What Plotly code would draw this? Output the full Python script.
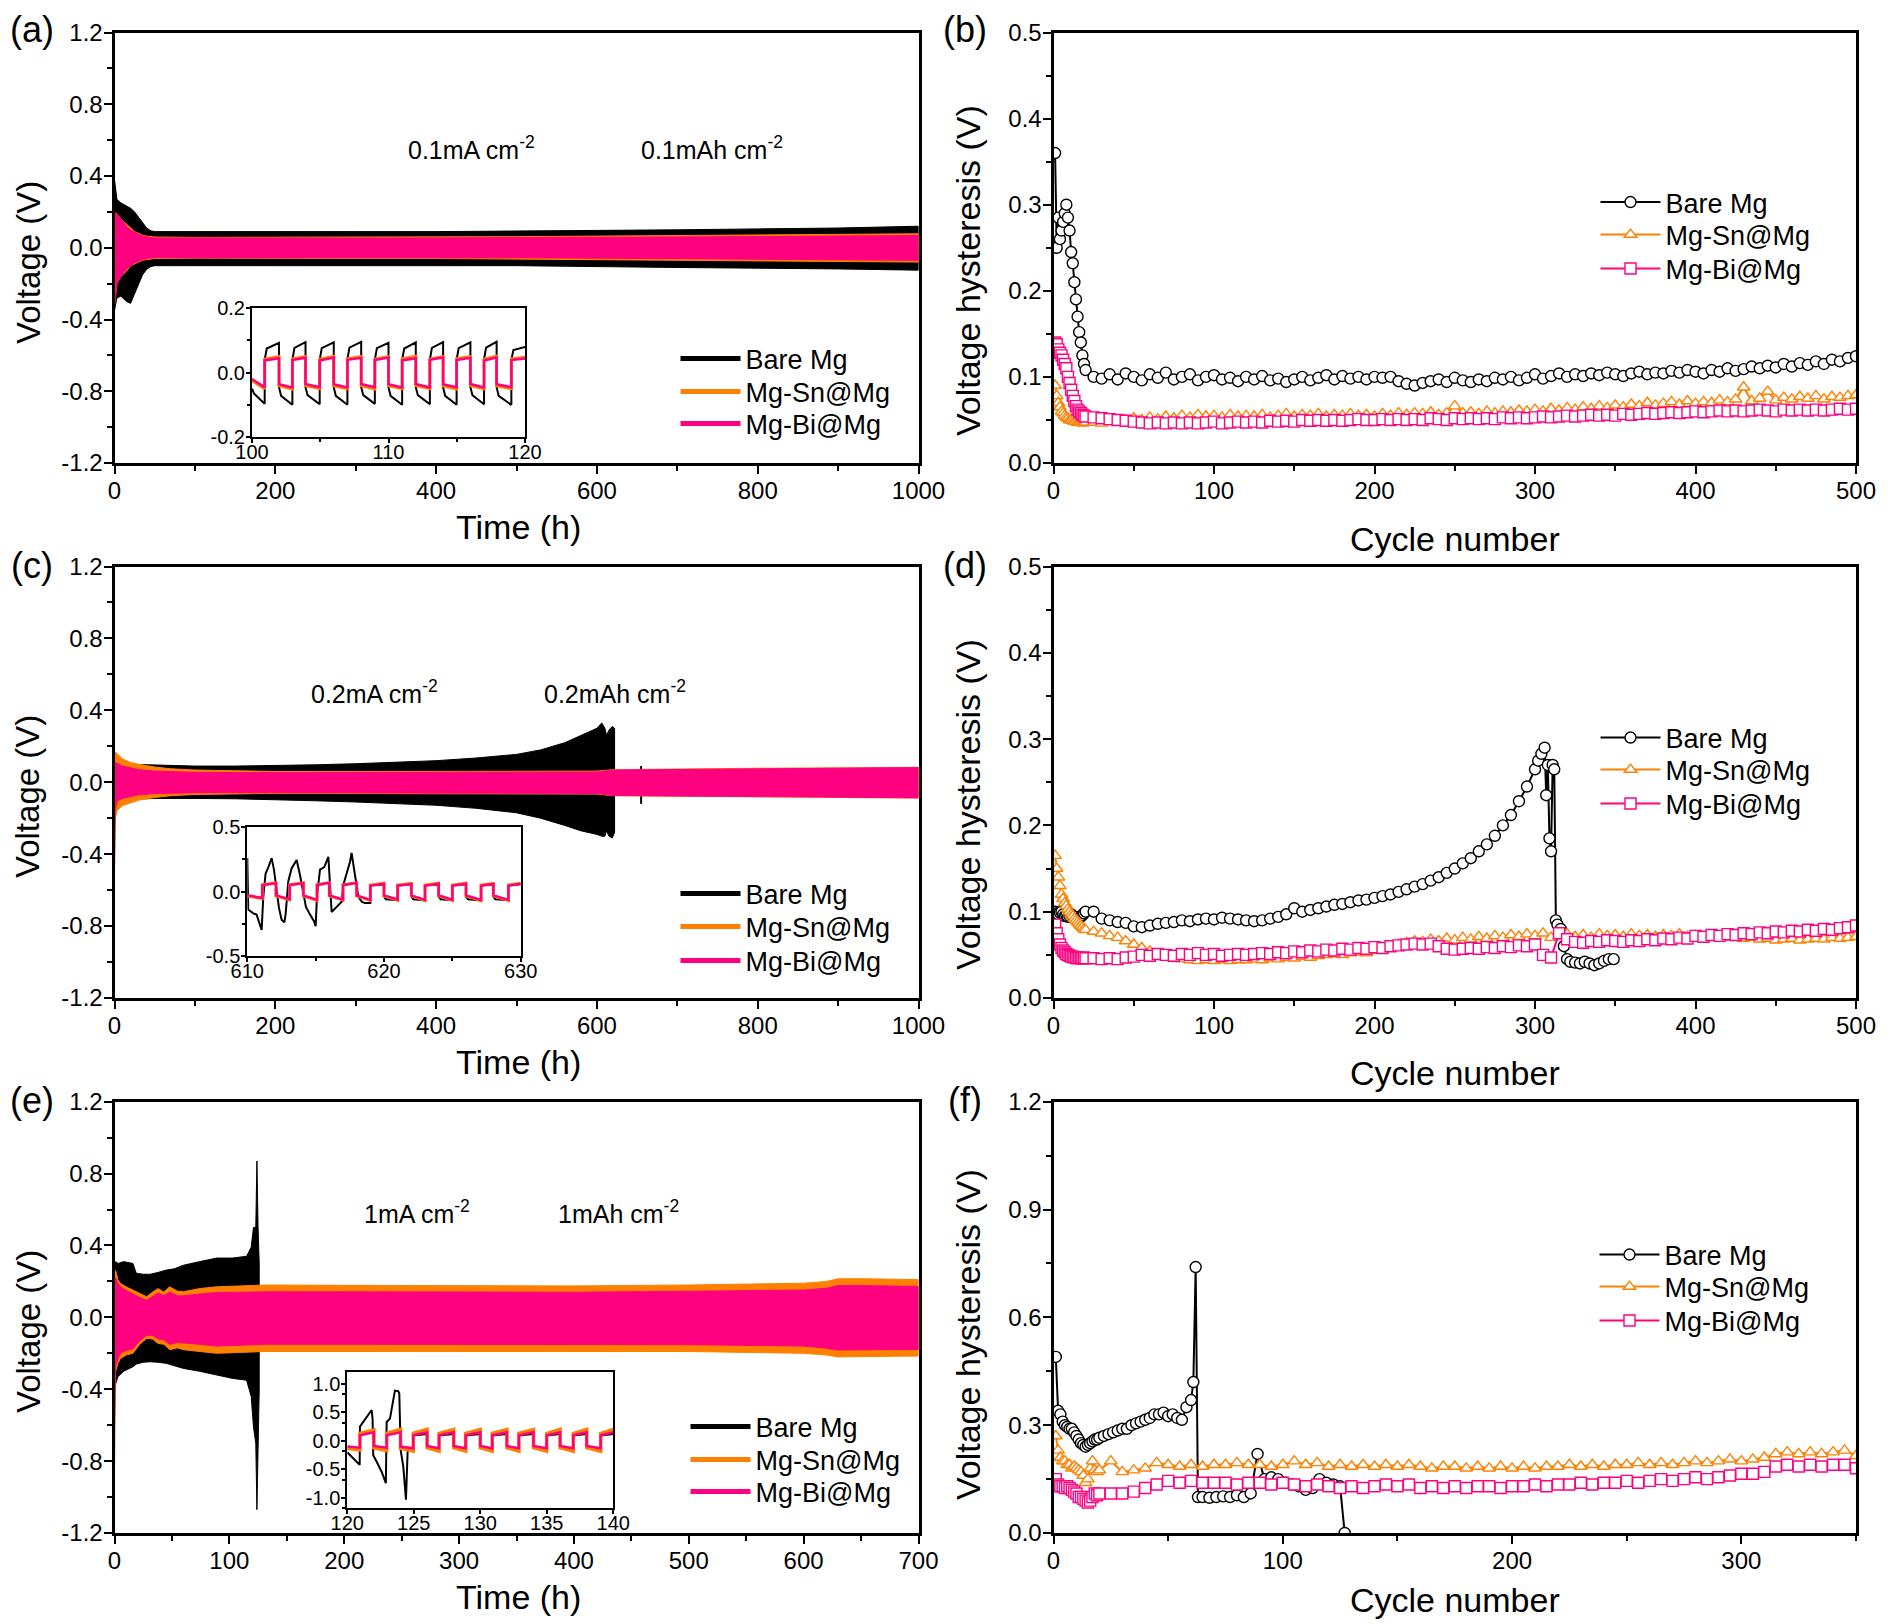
import plotly.graph_objects as go

W, H = 1890, 1624
PAGE_OFFSET = 8  # the html body margin shifts the figure by this many pixels
FONT = '"Liberation Sans", Arial, Helvetica, sans-serif'
BLACK = '#000000'
ORANGE = '#FF8000'
PINK = '#FF0080'
NAMES = ['Bare Mg', 'Mg-Sn@Mg', 'Mg-Bi@Mg']

# ---------------- (a) 0.1 mA cm-2 envelopes ----------------
a_t = [0, 3, 8, 15, 20, 25, 30, 35, 40, 45, 50, 100, 200, 300, 400, 500, 600, 700, 800, 900, 1000]
a_bare_up = [0.38, 0.27, 0.25, 0.23, 0.22, 0.2, 0.17, 0.14, 0.11, 0.095, 0.09, 0.09, 0.088, 0.09, 0.09, 0.092, 0.095, 0.1, 0.105, 0.11, 0.12]
a_bare_low = [-0.35, -0.28, -0.27, -0.3, -0.31, -0.26, -0.2, -0.15, -0.12, -0.105, -0.1, -0.1, -0.098, -0.1, -0.1, -0.1, -0.105, -0.11, -0.112, -0.118, -0.125]
a_sn_up = [0.2, 0.19, 0.16, 0.13, 0.11, 0.09, 0.08, 0.07, 0.065, 0.062, 0.06, 0.058, 0.058, 0.06, 0.06, 0.062, 0.065, 0.068, 0.07, 0.074, 0.078]
a_sn_low = [-0.32, -0.2, -0.16, -0.13, -0.1, -0.09, -0.08, -0.07, -0.065, -0.062, -0.06, -0.058, -0.058, -0.06, -0.06, -0.062, -0.065, -0.07, -0.072, -0.076, -0.08]
a_bi_up = [0.2, 0.19, 0.16, 0.12, 0.1, 0.085, 0.075, 0.066, 0.06, 0.057, 0.055, 0.054, 0.053, 0.054, 0.055, 0.056, 0.058, 0.06, 0.062, 0.065, 0.068]
a_bi_low = [-0.32, -0.2, -0.16, -0.12, -0.1, -0.085, -0.075, -0.066, -0.06, -0.057, -0.055, -0.054, -0.053, -0.054, -0.055, -0.056, -0.058, -0.06, -0.063, -0.066, -0.07]

# inset (a): half-cycle switching times and plateau values
ia_edges = [100, 100.93, 101.98, 102.96, 103.92, 104.96, 105.99, 106.99, 108.0, 109.0, 110.0,
            111.0, 112.0, 113.03, 114.0, 114.99, 116.0, 117.0, 117.92, 119.0, 120]
ia_bare = [(-0.05, -0.065, -0.097), (0.04, 0.075, 0.093), (-0.045, -0.072, -0.1), (0.04, 0.077, 0.095),
           (-0.045, -0.07, -0.098), (0.04, 0.076, 0.094), (-0.045, -0.072, -0.1), (0.042, 0.078, 0.096),
           (-0.045, -0.07, -0.097), (0.04, 0.076, 0.093), (-0.045, -0.072, -0.1), (0.04, 0.075, 0.094),
           (-0.045, -0.07, -0.098), (0.04, 0.077, 0.095), (-0.045, -0.072, -0.1), (0.04, 0.076, 0.094),
           (-0.045, -0.07, -0.098), (0.042, 0.078, 0.096), (-0.045, -0.072, -0.1), (0.04, 0.07, 0.08)]
ia_sn = [(-0.025, -0.05), (0.042, 0.05), (-0.04, -0.051), (0.043, 0.05), (-0.04, -0.05), (0.042, 0.051),
         (-0.041, -0.05), (0.043, 0.05), (-0.04, -0.051), (0.042, 0.05), (-0.041, -0.05), (0.043, 0.051),
         (-0.04, -0.05), (0.042, 0.05), (-0.041, -0.051), (0.043, 0.05), (-0.04, -0.05), (0.042, 0.051),
         (-0.041, -0.05), (0.043, 0.048)]
ia_bi = [(-0.02, -0.045), (0.038, 0.045), (-0.036, -0.046), (0.039, 0.046), (-0.035, -0.045), (0.038, 0.047),
         (-0.036, -0.046), (0.04, 0.046), (-0.035, -0.045), (0.039, 0.047), (-0.036, -0.046), (0.038, 0.045),
         (-0.035, -0.046), (0.04, 0.047), (-0.036, -0.045), (0.039, 0.046), (-0.035, -0.046), (0.038, 0.047),
         (-0.036, -0.045), (0.039, 0.044)]

# ---------------- (c) 0.2 mA cm-2 envelopes ----------------
c_bare_t = [0, 5, 20, 50, 100, 150, 200, 250, 300, 350, 400, 450, 500, 530, 560, 580, 600, 606, 610, 612, 615, 619, 622]
c_bare_up = [0.12, 0.11, 0.1, 0.095, 0.09, 0.09, 0.092, 0.097, 0.103, 0.11, 0.12, 0.135, 0.155, 0.18, 0.22, 0.26, 0.3, 0.33, 0.3, 0.26, 0.29, 0.31, 0.3]
c_bare_low = [-0.1, -0.1, -0.095, -0.09, -0.09, -0.092, -0.097, -0.103, -0.11, -0.118, -0.128, -0.145, -0.17, -0.2, -0.24, -0.27, -0.29, -0.3, -0.3, -0.27, -0.3, -0.31, -0.28]
c_glitch_t = [655, 655]
c_glitch_v = [0.09, -0.12]
c_t = [0, 1, 3, 5, 10, 20, 30, 50, 70, 100, 200, 300, 400, 500, 600, 620, 700, 800, 900, 1000]
c_sn_up = [0.1, 0.17, 0.16, 0.15, 0.13, 0.11, 0.1, 0.085, 0.075, 0.068, 0.06, 0.06, 0.06, 0.06, 0.062, 0.07, 0.075, 0.078, 0.08, 0.083]
c_sn_low = [-0.45, -0.2, -0.16, -0.15, -0.13, -0.115, -0.1, -0.085, -0.075, -0.068, -0.062, -0.062, -0.063, -0.064, -0.066, -0.075, -0.08, -0.082, -0.085, -0.088]
c_bi_up = [0.1, 0.11, 0.105, 0.1, 0.09, 0.08, 0.07, 0.062, 0.058, 0.055, 0.053, 0.053, 0.054, 0.055, 0.057, 0.068, 0.072, 0.075, 0.078, 0.082]
c_bi_low = [-0.52, -0.15, -0.11, -0.1, -0.09, -0.08, -0.07, -0.063, -0.06, -0.058, -0.058, -0.058, -0.059, -0.06, -0.062, -0.074, -0.078, -0.08, -0.083, -0.087]

# inset (c)
ic_edges = [610, 611.1, 612.1, 613.1, 614.1, 615.1, 616.0, 617.0, 618.0, 619.0, 620.0,
            621.0, 622.0, 623.0, 624.0, 625.0, 626.0, 627.1, 628.0, 629.1, 630]
ic_bare_t = [610.0, 610.07, 610.44, 610.68, 610.85, 611.05, 611.17, 611.34, 611.54, 611.78, 611.95,
             612.15, 612.32, 612.51, 612.71, 612.8, 613.0, 613.24, 613.49, 613.61, 613.85, 614.1,
             614.29, 614.59, 614.9, 615.0, 615.1, 615.32, 615.63, 615.93, 616.05, 616.17, 616.54,
             616.9, 617.02, 617.27, 617.51, 617.63, 617.88, 618.12, 618.37, 618.6, 619.0]
ic_bare_v = [0.26, -0.14, -0.17, -0.18, -0.235, -0.3, -0.04, 0.14, 0.19, 0.26, 0.17,
             -0.015, -0.13, -0.22, -0.24, -0.18, 0.08, 0.18, 0.23, 0.245, 0.13, -0.03,
             -0.12, -0.18, -0.235, -0.27, -0.03, 0.17, 0.19, 0.27, 0.08, -0.16, -0.12,
             -0.08, 0.05, 0.14, 0.23, 0.3, 0.14, -0.04, -0.08, -0.09, -0.09]
ic_bare_late = [(0.04, 0.05, 0.055), (-0.04, -0.06, -0.068), (0.042, 0.05, 0.056), (-0.04, -0.06, -0.07),
                (0.04, 0.05, 0.055), (-0.04, -0.06, -0.068), (0.042, 0.05, 0.056), (-0.04, -0.06, -0.07),
                (0.04, 0.05, 0.055), (-0.04, -0.06, -0.068), (0.042, 0.05, 0.056)]
ic_sn = [(-0.035, -0.055), (0.052, 0.068), (-0.035, -0.065), (0.052, 0.068), (-0.035, -0.07), (0.052, 0.07),
         (-0.035, -0.067), (0.052, 0.069), (-0.035, -0.07), (0.05, 0.065), (-0.035, -0.068), (0.05, 0.062),
         (-0.035, -0.07), (0.05, 0.065), (-0.035, -0.069), (0.05, 0.064), (-0.035, -0.071), (0.05, 0.062),
         (-0.035, -0.07), (0.05, 0.064)]
ic_bi = [(-0.03, -0.05), (0.05, 0.065), (-0.03, -0.06), (0.05, 0.065), (-0.03, -0.065), (0.05, 0.068),
         (-0.03, -0.062), (0.05, 0.066), (-0.03, -0.065), (0.045, 0.06), (-0.03, -0.062), (0.045, 0.058),
         (-0.03, -0.065), (0.045, 0.06), (-0.03, -0.064), (0.045, 0.06), (-0.03, -0.066), (0.045, 0.058),
         (-0.03, -0.065), (0.045, 0.06)]

# ---------------- (e) 1 mA cm-2 envelopes ----------------
e_bare_t = [0, 1, 3, 8, 16, 19, 25, 31, 38, 45, 52, 60, 74, 89, 103, 115, 119, 121, 123, 124, 125, 126]
e_bare_up = [0.2, 0.31, 0.3, 0.31, 0.3, 0.245, 0.24, 0.24, 0.25, 0.263, 0.27, 0.29, 0.31, 0.33, 0.33, 0.34, 0.39, 0.5, 0.5, 0.87, 0.5, 0.3]
e_bare_low = [-0.5, -0.37, -0.33, -0.3, -0.275, -0.26, -0.25, -0.247, -0.25, -0.256, -0.27, -0.284, -0.3, -0.32, -0.34, -0.35, -0.44, -0.61, -0.7, -1.07, -0.8, -0.4]
e_t = [0, 1, 3, 5, 10, 16, 22, 28, 33, 38, 43, 48, 55, 60, 74, 89, 110, 132, 200, 300, 400, 500, 600, 620, 630, 650, 700]
e_sn_up = [0.1, 0.26, 0.21, 0.19, 0.17, 0.152, 0.13, 0.115, 0.14, 0.16, 0.14, 0.17, 0.145, 0.143, 0.16, 0.17, 0.175, 0.18, 0.178, 0.175, 0.175, 0.18, 0.19, 0.2, 0.215, 0.215, 0.21]
e_sn_low = [-0.87, -0.3, -0.256, -0.23, -0.21, -0.2, -0.15, -0.117, -0.12, -0.145, -0.15, -0.18, -0.17, -0.18, -0.19, -0.2, -0.195, -0.19, -0.19, -0.19, -0.19, -0.19, -0.2, -0.21, -0.22, -0.22, -0.215]
e_bi_up = [0.1, 0.22, 0.19, 0.17, 0.15, 0.13, 0.11, 0.095, 0.115, 0.135, 0.12, 0.14, 0.12, 0.12, 0.13, 0.138, 0.14, 0.142, 0.142, 0.14, 0.14, 0.145, 0.152, 0.162, 0.177, 0.177, 0.172]
e_bi_low = [-0.6, -0.27, -0.23, -0.2, -0.185, -0.175, -0.13, -0.1, -0.1, -0.12, -0.125, -0.15, -0.14, -0.142, -0.15, -0.16, -0.155, -0.15, -0.15, -0.15, -0.15, -0.152, -0.16, -0.172, -0.182, -0.182, -0.178]

# inset (e)
ie_edges = [120, 120.95, 122, 122.96, 124, 124.96, 126, 126.9, 128, 128.9, 130,
            130.9, 132, 132.9, 134, 134.99, 136, 136.99, 138, 139.05, 140]
ie_bare_t = [120.0, 120.33, 120.63, 120.93, 120.95, 121.2, 121.58, 121.83, 121.9, 121.95, 122.2, 122.58,
             122.9, 122.96, 123.21, 123.58, 123.83, 123.91, 124.01, 124.21, 124.41, 124.49, 124.54, 124.94]
ie_bare_v = [-0.2, -0.275, -0.36, -0.42, 0.25, 0.33, 0.45, 0.54, 0.39, -0.25, -0.36, -0.54,
             -0.74, 0.33, 0.39, 0.88, 0.87, 0.83, -0.16, -0.45, -1.03, -0.57, -0.16, -0.13]
ie_bare_late = [(0.08, 0.1, 0.12), (-0.1, -0.12, -0.14), (0.08, 0.1, 0.12), (-0.1, -0.12, -0.14),
                (0.08, 0.1, 0.12), (-0.1, -0.12, -0.14), (0.08, 0.1, 0.12), (-0.1, -0.12, -0.14),
                (0.08, 0.1, 0.12), (-0.1, -0.12, -0.14), (0.08, 0.1, 0.12), (-0.1, -0.12, -0.14),
                (0.08, 0.1, 0.12), (-0.1, -0.12, -0.14), (0.08, 0.1, 0.12)]
ie_sn = [(-0.13, -0.16), (0.13, 0.19), (-0.12, -0.17), (0.13, 0.2), (-0.13, -0.18), (0.13, 0.2),
         (-0.12, -0.18), (0.13, 0.2), (-0.12, -0.18), (0.13, 0.2), (-0.12, -0.18), (0.13, 0.2),
         (-0.12, -0.18), (0.13, 0.2), (-0.12, -0.18), (0.13, 0.2), (-0.12, -0.18), (0.13, 0.2),
         (-0.12, -0.18), (0.13, 0.2)]
ie_bi = [(-0.1, -0.12), (0.1, 0.15), (-0.09, -0.12), (0.1, 0.15), (-0.1, -0.13), (0.1, 0.15),
         (-0.09, -0.13), (0.1, 0.15), (-0.09, -0.13), (0.1, 0.15), (-0.09, -0.13), (0.1, 0.15),
         (-0.09, -0.13), (0.1, 0.15), (-0.09, -0.13), (0.1, 0.15), (-0.09, -0.13), (0.1, 0.15),
         (-0.09, -0.13), (0.1, 0.15)]

# ---------------- (b) hysteresis, 0.1 mA cm-2 ----------------
cyc_early = list(range(1, 21))
cyc_500 = list(range(25, 501, 5))
b_bare_early = [0.36, 0.25, 0.285, 0.26, 0.27, 0.28, 0.29, 0.30, 0.285, 0.27, 0.245, 0.232, 0.21, 0.19, 0.17, 0.152, 0.14, 0.125, 0.115, 0.108]
b_bare = [0.1, 0.098, 0.103, 0.097, 0.104, 0.1, 0.096, 0.103, 0.099, 0.105,
          0.097, 0.1, 0.103, 0.096, 0.1, 0.102, 0.097, 0.099, 0.095, 0.1,
          0.097, 0.101, 0.096, 0.098, 0.094, 0.097, 0.1, 0.096, 0.099, 0.102,
          0.097, 0.101, 0.098, 0.1, 0.097, 0.1, 0.099, 0.1, 0.095, 0.092,
          0.09, 0.093, 0.095, 0.097, 0.094, 0.099, 0.096, 0.094, 0.097, 0.095,
          0.099, 0.097, 0.1, 0.096, 0.099, 0.103, 0.098, 0.101, 0.104, 0.1,
          0.103, 0.101, 0.104, 0.102, 0.105, 0.103, 0.101, 0.104, 0.106, 0.103,
          0.105, 0.104, 0.107, 0.105, 0.108, 0.106, 0.104, 0.108, 0.106, 0.11,
          0.107, 0.109, 0.112, 0.11, 0.113, 0.111, 0.115, 0.112, 0.116, 0.114,
          0.118, 0.115, 0.12, 0.118, 0.122, 0.124]
b_sn_early = [0.09, 0.078, 0.07, 0.065, 0.06, 0.058, 0.055, 0.053, 0.052, 0.05, 0.05, 0.049, 0.048, 0.048, 0.047, 0.047, 0.047, 0.046, 0.047, 0.047]
b_sn = [0.047, 0.046, 0.048, 0.047, 0.05, 0.052, 0.05, 0.053, 0.051, 0.054,
        0.052, 0.055, 0.053, 0.056, 0.054, 0.055, 0.053, 0.056, 0.054, 0.055,
        0.054, 0.056, 0.053, 0.055, 0.057, 0.054, 0.056, 0.055, 0.057, 0.054,
        0.056, 0.055, 0.057, 0.055, 0.056, 0.054, 0.057, 0.055, 0.058, 0.056,
        0.058, 0.057, 0.059, 0.056, 0.058, 0.066, 0.058, 0.059, 0.057, 0.06,
        0.058, 0.06, 0.059, 0.061, 0.06, 0.062, 0.06, 0.063, 0.061, 0.064,
        0.062, 0.065, 0.063, 0.066, 0.064, 0.067, 0.065, 0.068, 0.066, 0.07,
        0.067, 0.069, 0.071, 0.068, 0.072, 0.069, 0.071, 0.07, 0.073, 0.071,
        0.074, 0.088, 0.072, 0.075, 0.083, 0.073, 0.076, 0.074, 0.077, 0.075,
        0.078, 0.074, 0.077, 0.076, 0.078, 0.079]
b_bi_early = [0.14, 0.138, 0.132, 0.128, 0.125, 0.12, 0.115, 0.11, 0.1, 0.093, 0.085, 0.078, 0.072, 0.066, 0.062, 0.06, 0.058, 0.056, 0.055, 0.054]
b_bi = [0.053, 0.052, 0.051, 0.05, 0.049, 0.048, 0.047, 0.046, 0.047, 0.046,
        0.047, 0.046, 0.047, 0.046, 0.047, 0.048, 0.046, 0.047, 0.048, 0.047,
        0.048, 0.047, 0.049, 0.048, 0.049, 0.048, 0.05, 0.049, 0.05, 0.049,
        0.05, 0.049, 0.05, 0.051, 0.05, 0.05, 0.051, 0.05, 0.051, 0.05,
        0.051, 0.05, 0.052, 0.051, 0.05, 0.052, 0.051, 0.052, 0.051, 0.052,
        0.051, 0.053, 0.052, 0.053, 0.052, 0.053, 0.054, 0.053, 0.054, 0.055,
        0.054, 0.055, 0.056, 0.055, 0.056, 0.055, 0.057, 0.056, 0.057, 0.058,
        0.057, 0.058, 0.059, 0.058, 0.059, 0.06, 0.059, 0.06, 0.061, 0.06,
        0.061, 0.06, 0.061, 0.062, 0.061, 0.06, 0.062, 0.061, 0.062, 0.061,
        0.062, 0.061, 0.062, 0.063, 0.062, 0.063]

# ---------------- (d) hysteresis, 0.2 mA cm-2 ----------------
d_bare_cyc = list(range(1, 21)) + list(range(25, 301, 5)) + \
    [302, 304, 306, 307, 308, 309, 310, 311, 312, 313, 314, 316, 318, 320] + \
    [322, 325, 328, 331, 334, 337, 340, 343, 346, 349]
d_bare = [0.1, 0.098, 0.097, 0.099, 0.1, 0.097, 0.095, 0.096, 0.094, 0.095,
          0.097, 0.095, 0.093, 0.094, 0.092, 0.093, 0.094, 0.096, 0.098, 0.1,
          0.1, 0.092, 0.09, 0.088, 0.087, 0.083, 0.082, 0.084, 0.086, 0.087,
          0.088, 0.09, 0.089, 0.091, 0.092, 0.091, 0.093, 0.092, 0.091, 0.09,
          0.089, 0.09, 0.092, 0.094, 0.097, 0.104, 0.1, 0.102, 0.104, 0.106,
          0.108, 0.109, 0.111, 0.113, 0.114, 0.116, 0.118, 0.12, 0.123, 0.126,
          0.129, 0.132, 0.136, 0.14, 0.145, 0.15, 0.156, 0.162, 0.17, 0.178,
          0.188, 0.2, 0.212, 0.228, 0.245, 0.265,
          0.275, 0.283, 0.29, 0.235, 0.27, 0.185, 0.17, 0.27, 0.265, 0.09, 0.085, 0.08, 0.06, 0.045,
          0.042, 0.041, 0.04, 0.042, 0.04, 0.038, 0.04, 0.043, 0.045, 0.045]
d_sn_early = [0.165, 0.15, 0.14, 0.13, 0.12, 0.115, 0.11, 0.107, 0.103, 0.1, 0.097, 0.095, 0.092, 0.09, 0.088, 0.086, 0.084, 0.082, 0.08, 0.079]
d_sn = [0.077, 0.075, 0.072, 0.07, 0.066, 0.062, 0.058, 0.054, 0.05, 0.048,
        0.046, 0.045, 0.044, 0.043, 0.044, 0.043, 0.044, 0.043, 0.044, 0.044,
        0.045, 0.044, 0.046, 0.045, 0.047, 0.046, 0.048, 0.047, 0.049, 0.05,
        0.051, 0.05, 0.052, 0.053, 0.052, 0.055, 0.057, 0.06, 0.062, 0.064,
        0.066, 0.065, 0.068, 0.066, 0.069, 0.067, 0.07, 0.068, 0.071, 0.069,
        0.072, 0.07, 0.073, 0.071, 0.074, 0.072, 0.075, 0.07, 0.072, 0.074,
        0.071, 0.073, 0.07, 0.074, 0.072, 0.073, 0.071, 0.074, 0.072, 0.073,
        0.071, 0.073, 0.072, 0.074, 0.071, 0.072, 0.07, 0.072, 0.071, 0.07,
        0.071, 0.069, 0.07, 0.068, 0.069, 0.067, 0.068, 0.069, 0.067, 0.068,
        0.069, 0.068, 0.07, 0.069, 0.07, 0.071]
d_bi_early = [0.085, 0.075, 0.068, 0.062, 0.058, 0.055, 0.053, 0.051, 0.05, 0.049, 0.048, 0.048, 0.047, 0.047, 0.046, 0.047, 0.046, 0.046, 0.047, 0.046]
d_bi = [0.046, 0.045, 0.046, 0.045, 0.047, 0.048, 0.05, 0.049, 0.051, 0.05,
        0.049, 0.051, 0.05, 0.052, 0.05, 0.051, 0.049, 0.05, 0.051, 0.05,
        0.051, 0.052, 0.051, 0.053, 0.052, 0.054, 0.053, 0.055, 0.054, 0.056,
        0.055, 0.057, 0.056, 0.058, 0.057, 0.059, 0.058, 0.06, 0.061, 0.062,
        0.063, 0.062, 0.063, 0.06, 0.057, 0.056, 0.057, 0.058, 0.057, 0.059,
        0.058, 0.06, 0.059, 0.061, 0.06, 0.062, 0.05, 0.047, 0.075, 0.068,
        0.065, 0.064, 0.066, 0.065, 0.067, 0.066, 0.065, 0.067, 0.066, 0.068,
        0.067, 0.069, 0.068, 0.07, 0.069, 0.072, 0.071, 0.073, 0.072, 0.074,
        0.073, 0.075, 0.074, 0.076, 0.075, 0.077, 0.076, 0.078, 0.077, 0.079,
        0.078, 0.08, 0.079, 0.081, 0.082, 0.084]

# ---------------- (f) hysteresis, 1 mA cm-2 ----------------
f_bare_cyc = list(range(1, 21)) + list(range(22, 61, 2)) + [61, 62, 63] + list(range(65, 126, 3)) + [127]
f_bare = [0.49, 0.34, 0.33, 0.31, 0.3, 0.295, 0.29, 0.29, 0.28, 0.27,
          0.26, 0.25, 0.245, 0.24, 0.245, 0.25, 0.255, 0.26, 0.26, 0.265,
          0.27, 0.275, 0.28, 0.285, 0.29, 0.29, 0.3, 0.305, 0.31, 0.315,
          0.32, 0.33, 0.33, 0.335, 0.325, 0.33, 0.32, 0.315, 0.35, 0.37,
          0.42, 0.74, 0.1,
          0.1, 0.098, 0.1, 0.102, 0.1, 0.105, 0.1, 0.11, 0.22, 0.15, 0.155,
          0.15, 0.14, 0.135, 0.13, 0.12, 0.125, 0.15, 0.14, 0.135, 0.13,
          0.0]
cyc_350 = list(range(25, 351, 5))
f_sn_early = [0.27, 0.23, 0.21, 0.2, 0.2, 0.19, 0.19, 0.18, 0.185, 0.18, 0.175, 0.17, 0.16, 0.14, 0.15, 0.18, 0.2, 0.175, 0.17, 0.175]
f_sn = [0.2, 0.17, 0.175, 0.18, 0.195, 0.19, 0.185, 0.19, 0.185, 0.19,
        0.19, 0.195, 0.19, 0.19, 0.185, 0.19, 0.2, 0.19, 0.195, 0.185,
        0.19, 0.185, 0.19, 0.185, 0.19, 0.185, 0.19, 0.185, 0.18, 0.185,
        0.185, 0.18, 0.185, 0.18, 0.185, 0.18, 0.185, 0.18, 0.185, 0.185,
        0.19, 0.185, 0.19, 0.185, 0.19, 0.19, 0.195, 0.19, 0.195, 0.19,
        0.195, 0.2, 0.195, 0.2, 0.205, 0.2, 0.205, 0.21, 0.22, 0.225,
        0.22, 0.225, 0.22, 0.225, 0.23, 0.215]
f_bi_early = [0.15, 0.135, 0.13, 0.13, 0.125, 0.13, 0.125, 0.12, 0.115, 0.11, 0.1, 0.1, 0.095, 0.09, 0.085, 0.09, 0.1, 0.11, 0.105, 0.11]
f_bi = [0.11, 0.11, 0.115, 0.125, 0.135, 0.145, 0.14, 0.145, 0.14, 0.14,
        0.14, 0.135, 0.14, 0.14, 0.135, 0.14, 0.135, 0.13, 0.135, 0.13,
        0.125, 0.13, 0.125, 0.13, 0.135, 0.13, 0.135, 0.125, 0.13, 0.125,
        0.13, 0.125, 0.13, 0.13, 0.125, 0.13, 0.13, 0.135, 0.13, 0.135,
        0.135, 0.14, 0.135, 0.14, 0.14, 0.145, 0.14, 0.145, 0.15, 0.145,
        0.15, 0.155, 0.15, 0.155, 0.16, 0.165, 0.165, 0.17, 0.185, 0.19,
        0.185, 0.19, 0.185, 0.19, 0.19, 0.18]


def px(x):
    return (x - PAGE_OFFSET) / W


def py(y):
    return 1 - (y - PAGE_OFFSET) / H


def halves_path(edges, halves):
    # step trace built from half-cycle switching times and plateau readings
    xs, ys = [], []
    for i, h in enumerate(halves):
        t0, t1 = edges[i], edges[i + 1]
        if len(h) == 3:
            xs += [t0, t0 + 0.15, t1]
        else:
            xs += [t0, t1]
        ys += list(h)
    return xs, ys


fig = go.Figure()


def band(t, up, low, color, n):
    fig.add_trace(go.Scatter(
        x=t + t[::-1], y=up + low[::-1], mode='lines', fill='toself',
        fillcolor=color, line=dict(color=color, width=1),
        xaxis='x' + n, yaxis='y' + n, showlegend=False, hoverinfo='skip'))


def line(x, y, color, width, n):
    fig.add_trace(go.Scatter(
        x=x, y=y, mode='lines', line=dict(color=color, width=width),
        xaxis='x' + n, yaxis='y' + n, showlegend=False, hoverinfo='skip'))


def legend_lines(n, legs):
    for name, color, leg in zip(NAMES, [BLACK, ORANGE, PINK], legs):
        fig.add_trace(go.Scatter(
            x=[None], y=[None], mode='lines', name=name,
            line=dict(color=color, width=5), xaxis='x' + n, yaxis='y' + n,
            legend=leg))


def hyst(n, legs, series):
    symbols = ['circle', 'triangle-up', 'square']
    colors = [BLACK, ORANGE, PINK]
    for (x, y), name, sym, color, leg in zip(series, NAMES, symbols, colors, legs):
        fig.add_trace(go.Scatter(
            x=x, y=y, mode='lines+markers', name=name,
            line=dict(color=color, width=2),
            marker=dict(symbol=sym, size=11, color='white', line=dict(color=color, width=1.4)),
            xaxis='x' + n, yaxis='y' + n, legend=leg))


def legs_for(panel):
    ids = [panel * 3 + k + 1 for k in range(3)]
    return ['legend' if i == 1 else 'legend%d' % i for i in ids]


# (a)
band(a_t, a_bare_up, a_bare_low, BLACK, '')
band(a_t, a_sn_up, a_sn_low, ORANGE, '')
band(a_t, a_bi_up, a_bi_low, PINK, '')
legend_lines('', legs_for(0))
x, y = halves_path(ia_edges, ia_bare)
line(x, y, BLACK, 2, '7')
x, y = halves_path(ia_edges, ia_sn)
line(x, y, ORANGE, 3, '7')
x, y = halves_path(ia_edges, ia_bi)
line(x, y, PINK, 2.5, '7')

# (c)
band(c_bare_t, c_bare_up, c_bare_low, BLACK, '3')
line(c_glitch_t, c_glitch_v, BLACK, 2, '3')
band(c_t, c_sn_up, c_sn_low, ORANGE, '3')
band(c_t, c_bi_up, c_bi_low, PINK, '3')
legend_lines('3', legs_for(2))
x, y = halves_path(ic_edges[9:], ic_bare_late)
line(ic_bare_t + x, ic_bare_v + y, BLACK, 2, '8')
x, y = halves_path(ic_edges, ic_sn)
line(x, y, ORANGE, 3, '8')
x, y = halves_path(ic_edges, ic_bi)
line(x, y, PINK, 2.5, '8')

# (e)
band(e_bare_t, e_bare_up, e_bare_low, BLACK, '5')
band(e_t, e_sn_up, e_sn_low, ORANGE, '5')
band(e_t, e_bi_up, e_bi_low, PINK, '5')
legend_lines('5', legs_for(4))
x, y = halves_path(ie_edges[5:], ie_bare_late)
line(ie_bare_t + x, ie_bare_v + y, BLACK, 2, '9')
x, y = halves_path(ie_edges, ie_sn)
line(x, y, ORANGE, 3.5, '9')
x, y = halves_path(ie_edges, ie_bi)
line(x, y, PINK, 2.5, '9')

# (b), (d), (f)
hyst('2', legs_for(1), [(cyc_early + cyc_500, b_bare_early + b_bare),
                        (cyc_early + cyc_500, b_sn_early + b_sn),
                        (cyc_early + cyc_500, b_bi_early + b_bi)])
hyst('4', legs_for(3), [(d_bare_cyc, d_bare),
                        (cyc_early + cyc_500, d_sn_early + d_sn),
                        (cyc_early + cyc_500, d_bi_early + d_bi)])
hyst('6', legs_for(5), [(f_bare_cyc, f_bare),
                        (cyc_early + cyc_350, f_sn_early + f_sn),
                        (cyc_early + cyc_350, f_bi_early + f_bi)])


def axis(domain, rng, vals, labels, minor, anchor, size=24, lw=3, tlen=8, mlen=5, tw=2, standoff=-4):
    return dict(domain=domain, range=rng, anchor=anchor, automargin=False,
                tickmode='array', tickvals=vals, ticktext=labels, ticklabelstandoff=standoff,
                showline=True, linecolor='black', linewidth=lw, mirror=True,
                ticks='outside', ticklen=tlen, tickwidth=tw, tickcolor='black',
                minor=dict(tickmode='linear', tick0=rng[0], dtick=minor, ticks='outside',
                           ticklen=mlen, tickwidth=tw, tickcolor='black', showgrid=False),
                showgrid=False, zeroline=False, fixedrange=True,
                tickfont=dict(family=FONT, size=size, color='black'))


def f1(vals):
    return ['%.1f' % v for v in vals]


def fi(vals):
    return [str(v) for v in vals]


col_l = [px(114.5), px(918.5)]
col_r = [px(1053.5), px(1856)]
row1 = [py(463), py(32.5)]
row2 = [py(998), py(566.5)]
row3 = [py(1533), py(1101.7)]

v_ticks = [-1.2, -0.8, -0.4, 0.0, 0.4, 0.8, 1.2]
h_ticks = [0.0, 0.1, 0.2, 0.3, 0.4, 0.5]
t1000 = [0, 200, 400, 600, 800, 1000]
c500 = [0, 100, 200, 300, 400, 500]
t700 = [0, 100, 200, 300, 400, 500, 600, 700]
c350 = [0, 100, 200, 300]
f_ticks = [0.0, 0.3, 0.6, 0.9, 1.2]
ins_x = dict(size=20, lw=2, tlen=4, mlen=3, tw=1.5, standoff=-8)
ins_y = dict(size=20, lw=2, tlen=4, mlen=3, tw=1.5, standoff=-3)

layout_axes = dict(
    xaxis=axis(col_l, [0, 1000], t1000, fi(t1000), 100, 'y'),
    yaxis=axis(row1, [-1.2, 1.2], v_ticks, f1(v_ticks), 0.2, 'x'),
    xaxis2=axis(col_r, [0, 500], c500, fi(c500), 50, 'y2'),
    yaxis2=axis(row1, [0, 0.5], h_ticks, f1(h_ticks), 0.05, 'x2'),
    xaxis3=axis(col_l, [0, 1000], t1000, fi(t1000), 100, 'y3'),
    yaxis3=axis(row2, [-1.2, 1.2], v_ticks, f1(v_ticks), 0.2, 'x3'),
    xaxis4=axis(col_r, [0, 500], c500, fi(c500), 50, 'y4'),
    yaxis4=axis(row2, [0, 0.5], h_ticks, f1(h_ticks), 0.05, 'x4'),
    xaxis5=axis(col_l, [0, 700], t700, fi(t700), 50, 'y5'),
    yaxis5=axis(row3, [-1.2, 1.2], v_ticks, f1(v_ticks), 0.2, 'x5'),
    xaxis6=axis(col_r, [0, 350], c350, fi(c350), 50, 'y6'),
    yaxis6=axis(row3, [0, 1.2], f_ticks, f1(f_ticks), 0.15, 'x6'),
    xaxis7=axis([px(252), px(525)], [100, 120], [100, 110, 120], fi([100, 110, 120]), 5, 'y7', **ins_x),
    yaxis7=axis([py(437), py(308.3)], [-0.2, 0.2], [-0.2, 0.0, 0.2], f1([-0.2, 0.0, 0.2]), 0.1, 'x7', **ins_y),
    xaxis8=axis([px(247.3), px(520.7)], [610, 630], [610, 620, 630], fi([610, 620, 630]), 5, 'y8', **ins_x),
    yaxis8=axis([py(955.7), py(827.3)], [-0.5, 0.5], [-0.5, 0.0, 0.5], f1([-0.5, 0.0, 0.5]), 0.25, 'x8', **ins_y),
    xaxis9=axis([px(347.3), px(613.3)], [120, 140], [120, 125, 130, 135, 140],
                fi([120, 125, 130, 135, 140]), 5, 'y9', **ins_x),
    yaxis9=axis([py(1508.3), py(1372.3)], [-1.18, 1.2], [-1.0, -0.5, 0.0, 0.5, 1.0],
                f1([-1.0, -0.5, 0.0, 0.5, 1.0]), 0.5, 'x9', **ins_y),
)

# one legend box per entry so the row spacing can follow the reference
legend_spots = [
    (675.5, [359, 392, 424]),      # (a)
    (1595.5, [202.5, 235, 269]),   # (b)
    (675.5, [894, 927, 961]),      # (c)
    (1595.5, [738, 770, 804]),     # (d)
    (685.5, [1427, 1460, 1492]),   # (e)
    (1594.5, [1255, 1287, 1321]),  # (f)
]
legends = {}
for p, (lx, ys) in enumerate(legend_spots):
    for name, ly in zip(legs_for(p), ys):
        legends[name] = dict(x=px(lx), y=py(ly), xanchor='left', yanchor='middle',
                             bgcolor='rgba(0,0,0,0)', borderwidth=0,
                             font=dict(family=FONT, size=27, color='black'), itemwidth=60,
                             itemclick=False, itemdoubleclick=False)

anns = []


def ann(text, x, y, size, angle=0):
    anns.append(dict(text=text, x=px(x), y=py(y), xref='paper', yref='paper', showarrow=False,
                     xanchor='center', yanchor='middle', textangle=angle,
                     font=dict(family=FONT, size=size, color='black')))


for lab, x, y in [('(a)', 32, 30), ('(b)', 965, 30), ('(c)', 32, 565), ('(d)', 965, 565),
                  ('(e)', 32, 1100), ('(f)', 965, 1100)]:
    ann(lab, x, y, 36)
for y in [527, 1062, 1597]:
    ann('Time (h)', 518, y, 34)
for y in [539, 1073, 1600]:
    ann('Cycle number', 1455, y, 34)
for y in [263, 797, 1332]:
    ann('Voltage (V)', 28, y, 33, -90)
for y in [271, 805, 1335]:
    ann('Voltage hysteresis (V)', 968, y, 34, -90)
ann('0.1mA cm<sup>-2</sup>', 471, 148, 25)
ann('0.1mAh cm<sup>-2</sup>', 712, 148, 25)
ann('0.2mA cm<sup>-2</sup>', 374, 692, 25)
ann('0.2mAh cm<sup>-2</sup>', 615, 692, 25)
ann('1mA cm<sup>-2</sup>', 417, 1212, 25)
ann('1mAh cm<sup>-2</sup>', 618, 1212, 25)

fig.update_layout(
    width=W, height=H, autosize=False,
    margin=dict(l=0, r=0, t=0, b=0),
    paper_bgcolor='white', plot_bgcolor='rgba(0,0,0,0)',
    font=dict(family=FONT, color='black'),
    annotations=anns,
    **legends,
    **layout_axes,
)

fig.write_html('out.html')
